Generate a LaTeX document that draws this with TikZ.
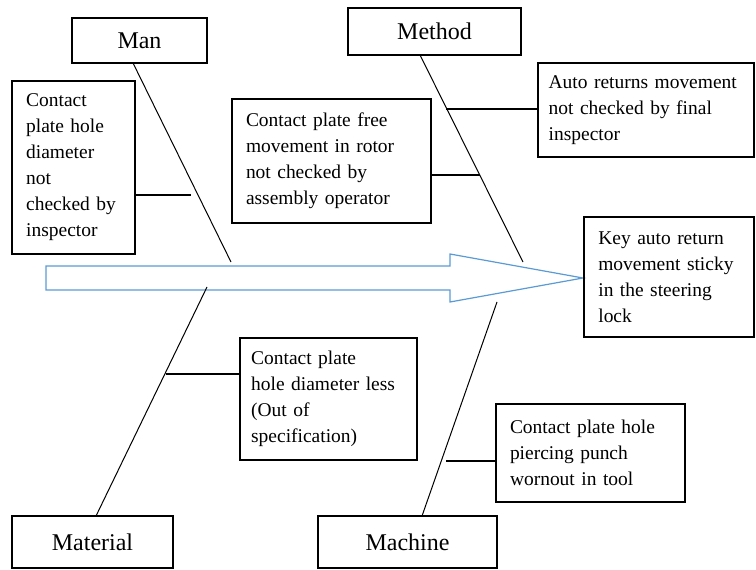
\documentclass[tikz,border=0pt]{standalone}
\usepackage{fontspec}
\setmainfont{Liberation Serif}
\definecolor{arrowblue}{RGB}{91,155,213}
\tikzset{every picture/.style={line width=0.9pt}}
\tikzset{
  catbox/.style={draw, rectangle, inner sep=0pt, font=\fontsize{18}{20}\selectfont},
  causebox/.style={draw, rectangle, align=left, inner ysep=0pt, font=\fontsize{14.6}{19.5}\selectfont},
  bone/.style={line width=0.75pt},
  twig/.style={line width=0.9pt}
}

\begin{document}
\begin{tikzpicture}[x=0.75pt,y=0.75pt,yscale=-1,xscale=1]
\useasboundingbox (0,0) rectangle (756,570);

%Shape: Arrow (effect spine)
\draw [draw=arrowblue, fill=white] (46,266) -- (450,266) -- (450,254) -- (583,278) -- (450,302) -- (450,290) -- (46,290) -- cycle ;

% Category boxes
\node (man) [catbox, minimum width=101.25pt, minimum height=33.75pt] at (139.5,40.5) {Man};
\node (method) [catbox, minimum width=129.75pt, minimum height=35.25pt] at (434.5,31.5) {Method};
\node (material) [catbox, minimum width=120.75pt, minimum height=39pt] at (92.5,542) {Material};
\node (machine) [catbox, minimum width=134.25pt, minimum height=39pt] at (407.5,542) {Machine};

% Cause boxes
\node (c1) [causebox, text width=71pt, inner xsep=10.6pt, minimum height=129.75pt] at (73.5,167.5) {Contact\\plate hole\\diameter\\not\\checked by\\inspector};
\node (c2) [causebox, text width=128.25pt, inner xsep=10.5pt, minimum height=93pt] at (331.5,161) {Contact plate free\\movement in rotor\\not checked by\\assembly operator};
\node (c3) [causebox, text width=146pt, inner xsep=8pt, minimum height=70.5pt] at (646,110) {Auto returns movement\\not checked by final\\inspector};
\node (key) [causebox, text width=106pt, inner xsep=10.75pt, minimum height=90pt] at (669,277) {Key auto return\\movement sticky\\in the steering\\lock};
\node (c4) [causebox, text width=116pt, inner xsep=8.4pt, minimum height=91.5pt] at (328.5,399) {Contact plate\\hole diameter less\\(Out of\\specification)};
\node (c5) [causebox, text width=120.75pt, inner xsep=10.5pt, minimum height=73.5pt] at (590.5,453) {Contact plate hole\\piercing punch\\wornout in tool};

% Bone end points
\coordinate (manTop) at (133,63);
\coordinate (manEnd) at (231,262);
\coordinate (methodTop) at (420,55);
\coordinate (methodEnd) at (523,262);
\coordinate (materialTop) at (207,287);
\coordinate (materialEnd) at (96,516);
\coordinate (machineTop) at (497,302);
\coordinate (machineEnd) at (422,516);

%Straight Lines (bones)
\draw [bone] (manTop) -- (manEnd) ;
\draw [bone] (methodTop) -- (methodEnd) ;
\draw [bone] (materialTop) -- (materialEnd) ;
\draw [bone] (machineTop) -- (machineEnd) ;

% Twig points on the bones
\coordinate (t1) at (191,195);
\coordinate (t2) at (480,175);
\coordinate (t3) at (446,109);
\coordinate (t4) at (166,374);
\coordinate (t5) at (446,461);

%Straight Lines (twigs)
\draw [twig] (c1.east |- t1) -- (t1) ;
\draw [twig] (c2.east |- t2) -- (t2) ;
\draw [twig] (t3) -- (t3 -| c3.west) ;
\draw [twig] (t4) -- (t4 -| c4.west) ;
\draw [twig] (t5) -- (t5 -| c5.west) ;

\end{tikzpicture}
\end{document}
